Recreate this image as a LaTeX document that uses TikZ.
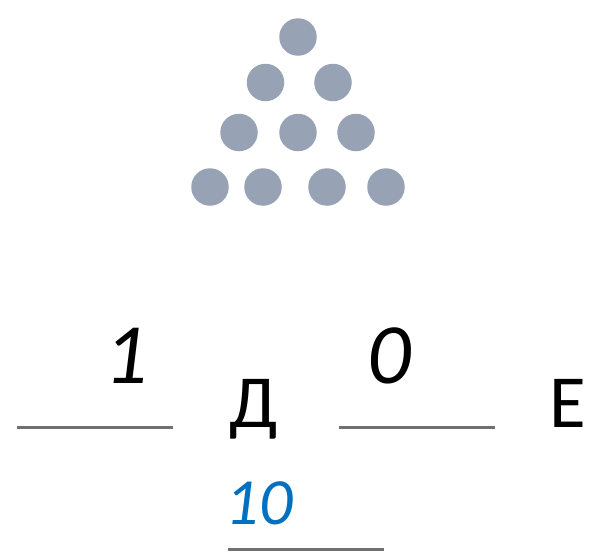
\documentclass[tikz,border=0pt]{standalone}
\usepackage{fontspec}
\setmainfont{Carlito}
\definecolor{dotc}{HTML}{97A3B5}
\definecolor{linec}{HTML}{707070}
\definecolor{bluec}{HTML}{0070C0}
\begin{document}
\begin{tikzpicture}[x=1pt,y=-1pt,
  dot/.style={circle,fill=dotc,draw=none,minimum size=37.5pt,inner sep=0pt},
  blank/.style={line width=3pt,draw=linec},
  bigdig/.style={anchor=base,inner sep=0pt,font=\fontsize{86}{90}\selectfont\itshape},
  letter/.style={anchor=base,inner sep=0pt,font=\fontsize{75}{80}\selectfont},
  ans/.style={anchor=base,inner sep=0pt,text=bluec,font=\fontsize{66}{70}\selectfont\itshape}]
\useasboundingbox (0,0) rectangle (589,552);
% triangle of dots
\node[dot] (d1) at (298,37) {};
\node[dot] (d2) at (265.5,82.5) {};
\node[dot] (d3) at (333,82.5) {};
\node[dot] (d4) at (239,132.5) {};
\node[dot] (d5) at (298,132.5) {};
\node[dot] (d6) at (356,132.5) {};
\node[dot] (d7) at (210,187) {};
\node[dot] (d8) at (263,187) {};
\node[dot] (d9) at (327,187) {};
\node[dot] (d10) at (386,187) {};
% texts
\node[bigdig] (one) at (126,383) {1};
\node[letter] (de) at (254,427) {Д};
\node[bigdig] (zero) at (389,383) {0};
\node[letter] (ye) at (568,427) {Е};
\node[ans] (ten) at (259,524) {10};
% blanks
\coordinate (l1a) at (17,427); \coordinate (l1b) at (173,427);
\coordinate (l2a) at (339,427); \coordinate (l2b) at (495,427);
\coordinate (l3a) at (228,549); \coordinate (l3b) at (384,549);
\draw[blank] (l1a) -- (l1b);
\draw[blank] (l2a) -- (l2b);
\draw[blank] (l3a) -- (l3b);
\end{tikzpicture}
\end{document}
